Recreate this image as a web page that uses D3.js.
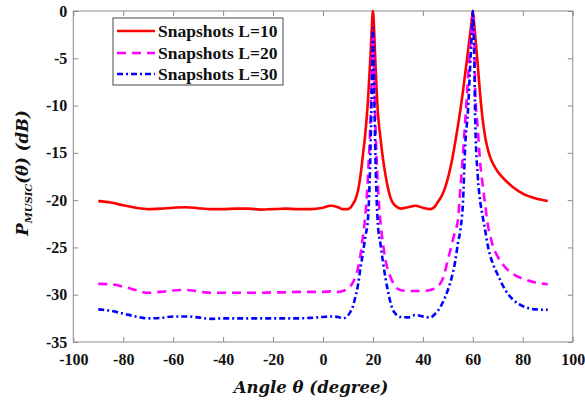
<!DOCTYPE html>
<html>
<head>
<meta charset="utf-8">
<script src="https://cdn.jsdelivr.net/npm/d3@7/dist/d3.min.js"></script>
<style>
  html, body { margin: 0; padding: 0; background: #fff; }
  svg { display: block; }
</style>
</head>
<body>
<svg id="chart" width="585" height="404"></svg>
<script>
// Scan angles (degrees)
const angles = [-90,-85,-80,-75,-70,-65,-60,-55,-50,-45,-40,-35,-30,-25,-20,-15,-10,-5,0,3,6,8,10,11,12,13,14,15,16,17,18,19,19.5,20,20.5,21,22,23,24,25,26,27,28,29,31,34,37,40,43,45,46,47,48,49,50,51,52,53,54,55,56,57,58,59,59.5,60,60.5,61,62,63,64,65,66,67,68,70,73,76,80,85,90];

// MUSIC pseudo-spectrum (dB) for each snapshot count
const spectrumL10 = [-20.1,-20.25,-20.55,-20.8,-20.95,-20.9,-20.8,-20.75,-20.85,-20.95,-20.95,-20.9,-20.9,-21.0,-20.95,-20.9,-20.95,-20.95,-20.8,-20.6,-20.75,-20.95,-20.95,-20.8,-20.4,-19.9,-19.0,-17.4,-15.2,-12.8,-9.5,-4.8,-2.0,0,-2.2,-5.5,-10.8,-13.4,-15.6,-17.3,-18.7,-19.7,-20.3,-20.6,-20.9,-20.75,-20.6,-20.8,-20.95,-20.6,-20.2,-19.8,-19.3,-18.6,-17.7,-16.6,-15.3,-13.8,-12.2,-10.5,-8.6,-6.5,-4.4,-2.2,-1.1,0,-1.2,-2.7,-5.8,-9.0,-11.6,-13.4,-14.6,-15.5,-16.1,-17.0,-17.9,-18.6,-19.3,-19.8,-20.1];

const spectrumL20 = [-28.85,-28.9,-29.15,-29.5,-29.8,-29.7,-29.55,-29.5,-29.65,-29.8,-29.8,-29.8,-29.8,-29.8,-29.75,-29.75,-29.7,-29.7,-29.7,-29.65,-29.7,-29.6,-29.35,-29.1,-28.7,-28.1,-27.2,-25.8,-23.8,-21.5,-17.5,-11.5,-7,-2.5,-7,-12,-18.5,-22.3,-24.5,-26.3,-27.4,-28.1,-28.7,-29.15,-29.5,-29.6,-29.6,-29.6,-29.5,-29.3,-29.1,-28.8,-28.3,-27.4,-26.3,-25.3,-24.2,-23.2,-22.2,-18.8,-15.3,-11.5,-7.5,-3.5,-1.8,-0.5,-2.5,-8.5,-12.5,-16.2,-18.5,-20.6,-22.6,-23.8,-24.8,-26.0,-27.1,-27.8,-28.3,-28.7,-28.9];

const spectrumL30 = [-31.55,-31.7,-32.0,-32.3,-32.5,-32.45,-32.3,-32.3,-32.4,-32.55,-32.5,-32.5,-32.5,-32.5,-32.5,-32.5,-32.5,-32.45,-32.35,-32.3,-32.35,-32.5,-32.2,-31.8,-31.2,-30.2,-29.0,-27.2,-25.6,-23.8,-22.0,-15,-8.5,-1.8,-8.5,-15.5,-22.6,-24.6,-26.5,-28.2,-29.6,-30.8,-31.6,-32.0,-32.35,-32.4,-32.15,-32.3,-32.4,-32.0,-31.7,-31.3,-30.8,-30.2,-29.5,-28.7,-27.7,-26.4,-24.6,-23.2,-20.5,-14.0,-10.8,-5.5,-2.8,0,-4,-12,-17.5,-20.2,-21.8,-23.3,-24.8,-25.9,-26.7,-27.9,-29.5,-30.5,-31.2,-31.55,-31.6];

const seriesNames = ["Snapshots L=10", "Snapshots L=20", "Snapshots L=30"];
const xTicks = [-100,-80,-60,-40,-20,0,20,40,60,80,100];
const yTicks = [0,-5,-10,-15,-20,-25,-30,-35];

const series = [
  { name: seriesNames[0], values: spectrumL10, color: "#ff0000", dash: null },
  { name: seriesNames[1], values: spectrumL20, color: "#ff00ff", dash: "9,6" },
  { name: seriesNames[2], values: spectrumL30, color: "#0000ff", dash: "6,3,2,3" }
];

const svg = d3.select("#chart");
const plot = { left: 73.3, right: 572.7, top: 11, bottom: 342 };

const x = d3.scaleLinear().domain([-100, 100]).range([plot.left, plot.right]);
const y = d3.scaleLinear().domain([-35, 0]).range([plot.bottom, plot.top]);

const tickFont = "'Liberation Serif', 'Times New Roman', serif";
const axisGray = "#8c8c8c";
const plainNumber = d => String(d);   // ASCII hyphen for negatives

function styleAxis(g, showLabels) {
  g.select(".domain").remove();
  g.selectAll(".tick line").attr("stroke", axisGray).attr("stroke-width", 1);
  g.selectAll(".tick text")
    .attr("fill", "#111")
    .style("font-family", tickFont)
    .style("font-weight", "bold")
    .style("font-size", "16px");
  if (!showLabels) g.selectAll(".tick text").remove();
}

// Bottom and top axes (ticks point inward)
svg.append("g")
  .attr("transform", `translate(0,${plot.bottom})`)
  .call(d3.axisBottom(x).tickValues(xTicks).tickSize(-5).tickPadding(12).tickFormat(plainNumber))
  .call(g => styleAxis(g, true));
svg.append("g")
  .attr("transform", `translate(0,${plot.top})`)
  .call(d3.axisTop(x).tickValues(xTicks).tickSize(-5))
  .call(g => styleAxis(g, false));

// Left and right axes
svg.append("g")
  .attr("transform", `translate(${plot.left},0)`)
  .call(d3.axisLeft(y).tickValues(yTicks).tickSize(-5).tickPadding(6).tickFormat(plainNumber))
  .call(g => styleAxis(g, true));
svg.append("g")
  .attr("transform", `translate(${plot.right},0)`)
  .call(d3.axisRight(y).tickValues(yTicks).tickSize(-5))
  .call(g => styleAxis(g, false));

// Axes box
svg.append("rect")
  .attr("x", plot.left).attr("y", plot.top)
  .attr("width", plot.right - plot.left).attr("height", plot.bottom - plot.top)
  .attr("fill", "none").attr("stroke", axisGray).attr("stroke-width", 1);

// Spectrum curves
const line = d3.line()
  .x((d, i) => x(angles[i]))
  .y(d => y(d))
  .curve(d3.curveMonotoneX);

const curves = svg.append("g");
series.forEach(s => {
  curves.append("path")
    .datum(s.values)
    .attr("d", line)
    .attr("fill", "none")
    .attr("stroke", s.color)
    .attr("stroke-width", 2.6)
    .attr("stroke-linejoin", "round")
    .attr("stroke-dasharray", s.dash);
});

// Legend
const legend = svg.append("g");
legend.append("rect")
  .attr("x", 113).attr("y", 18).attr("width", 170).attr("height", 67)
  .attr("fill", "#fff").attr("stroke", "#333").attr("stroke-width", 0.9);
const rowY = [31, 53, 74];
series.forEach((s, i) => {
  legend.append("line")
    .attr("x1", 117).attr("x2", 155)
    .attr("y1", rowY[i]).attr("y2", rowY[i])
    .attr("stroke", s.color).attr("stroke-width", 2.6)
    .attr("stroke-dasharray", s.dash);
  legend.append("text")
    .attr("x", 158).attr("y", rowY[i] + 6)
    .style("font-family", tickFont)
    .style("font-weight", "bold")
    .style("font-size", "17.5px")
    .attr("fill", "#111")
    .text(s.name);
});

// Axis titles
const mathFont = "'DejaVu Serif', serif";
svg.append("text")
  .attr("x", 311).attr("y", 393)
  .attr("text-anchor", "middle")
  .style("font-family", mathFont)
  .style("font-weight", "bold")
  .style("font-style", "italic")
  .style("font-size", "16.5px")
  .attr("fill", "#111")
  .text("Angle θ (degree)");

const yTitle = svg.append("text")
  .attr("transform", "translate(28,173) rotate(-90)")
  .attr("text-anchor", "middle")
  .style("font-family", mathFont)
  .style("font-weight", "bold")
  .style("font-style", "italic")
  .style("font-size", "16.5px")
  .attr("fill", "#111");
yTitle.append("tspan").text("P");
yTitle.append("tspan").attr("dy", 4).style("font-size", "10px").text("MUSIC");
yTitle.append("tspan").attr("dy", -4).text("(θ)  (dB)");
</script>
</body>
</html>
